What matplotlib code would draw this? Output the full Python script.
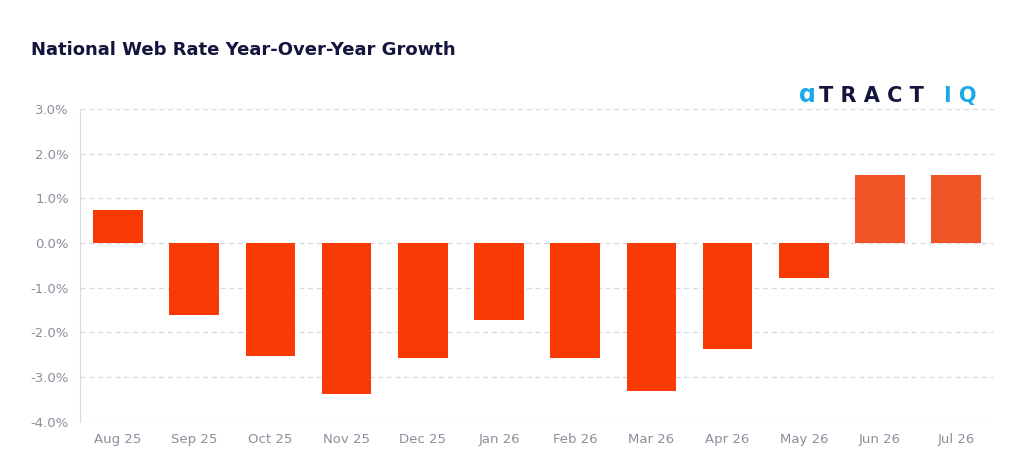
import matplotlib.pyplot as plt
from matplotlib.ticker import FuncFormatter

#################data
months = ['Aug 25', 'Sep 25', 'Oct 25', 'Nov 25', 'Dec 25', 'Jan 26',
          'Feb 26', 'Mar 26', 'Apr 26', 'May 26', 'Jun 26', 'Jul 26']
growth = [0.75, -1.6, -2.52, -3.38, -2.56, -1.73, -2.56, -3.3, -2.36, -0.77, 1.53, 1.53]
colors = ['#F93A06'] * 10 + ['#F05426'] * 2

fig = plt.figure(figsize=(10.24, 4.74), dpi=100)
ax = fig.add_axes([0.078, 0.11, 0.893, 0.66])

ax.bar(range(len(months)), growth, width=0.65, color=colors, zorder=3)

##axis styling
ax.set_ylim(-4, 3)
ax.set_xlim(-0.5, len(months) - 0.5)
ax.set_yticks([3, 2, 1, 0, -1, -2, -3, -4])
ax.yaxis.set_major_formatter(FuncFormatter(lambda v, p: '%.1f%%' % v))
ax.set_xticks(range(len(months)))
ax.set_xticklabels(months)
ax.tick_params(colors='#8A8F9C', labelsize=9.5, length=0, pad=8)
ax.grid(axis='y', color='#D8DAE2', linestyle=(0, (4, 3)), linewidth=0.9, zorder=0)
for s in ['top', 'right', 'bottom']:
    ax.spines[s].set_visible(False)
ax.spines['left'].set_color('#D8DAE2')

##title and logo text
fig.text(0.03, 0.885, 'National Web Rate Year-Over-Year Growth', fontsize=13,
         fontweight='bold', color='#14143C')
fig.text(0.78, 0.785, 'ɑ', fontsize=17, fontweight='bold', color='#1AA8E8')
fig.text(0.80, 0.785, 'T R A C T', fontsize=15, fontweight='bold', color='#14143C')
fig.text(0.922, 0.785, 'I Q', fontsize=15, fontweight='bold', color='#1AA8E8')

plt.savefig('out.png')
